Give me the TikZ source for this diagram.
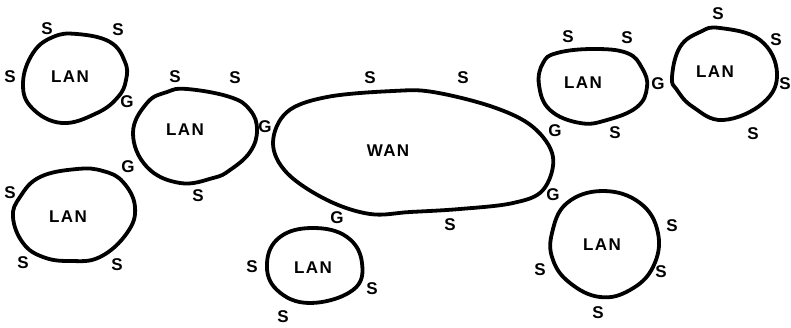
\documentclass[tikz,border=0pt]{standalone}
\usepackage{fontspec}
\newfontfamily\lblfont[LetterSpace=8]{Liberation Sans}
\begin{document}
\begin{tikzpicture}[x=1pt,y=-1pt,
  blob/.style={line width=3.8pt, line join=round},
  lbl/.style={font=\lblfont\bfseries\fontsize{17}{17}\selectfont, inner sep=0pt}]
\useasboundingbox (0,0) rectangle (791,327);
% blobs
\draw[blob] plot[smooth cycle, tension=0.7] coordinates {(77,34) (110,42) (125,62) (126,80) (118,97) (97,113) (62,123) (32,108) (23,83) (33,53) (53,37)};
\draw[blob] plot[smooth cycle, tension=0.7] coordinates {(187,89) (230,97) (250,110) (257,130) (250,152) (230,170) (213,178) (180,183) (147,167) (133,133) (147,103) (167,92)};
\draw[blob] plot[smooth cycle, tension=0.7] coordinates {(77,169) (40,177) (20,197) (13,217) (23,243) (43,257) (70,261) (100,257) (127,233) (135,207) (123,182) (103,171)};
\draw[blob] plot[smooth cycle, tension=0.6] coordinates {(273,143) (287,112) (327,97) (393,91) (433,92) (493,107) (533,127) (553,157) (543,190) (513,203) (460,209) (410,212) (370,214) (327,200) (287,173)};
\draw[blob] plot[smooth cycle, tension=0.7] coordinates {(313,228) (347,237) (362,263) (353,290) (310,303) (277,290) (267,263) (280,237)};
\draw[blob] plot[smooth cycle, tension=0.7] coordinates {(557,53) (593,49) (627,53) (642,68) (647,87) (637,107) (607,120) (580,123) (550,110) (539,85) (543,63)};
\draw[blob] plot[smooth cycle, tension=0.7] coordinates {(720,28) (760,40) (777,73) (763,103) (723,120) (693,107) (677,90) (672,77) (680,47) (700,32)};
\draw[blob] plot[smooth cycle, tension=0.7] coordinates {(603,191) (640,203) (658,233) (653,267) (630,290) (600,297) (570,283) (553,260) (552,233) (567,203)};
% labels: blob 1
\node[lbl] (l1) at (70,77) {LAN};
\node[lbl] (s1a) at (47,29) {S};
\node[lbl] (s1b) at (118,30) {S};
\node[lbl] (s1c) at (10,77) {S};
\node[lbl] (g1) at (127,102) {G};
% blob 2
\node[lbl] (l2) at (185,130) {LAN};
\node[lbl] (s2a) at (175,77) {S};
\node[lbl] (s2b) at (235,78) {S};
\node[lbl] (s2c) at (198,196) {S};
\node[lbl] (g2a) at (128,167) {G};
\node[lbl] (g2b) at (265,127) {G};
% blob 3
\node[lbl] (l3) at (68,217) {LAN};
\node[lbl] (s3a) at (10,193) {S};
\node[lbl] (s3b) at (23,263) {S};
\node[lbl] (s3c) at (117,265) {S};
% WAN
\node[lbl] (w) at (388,151) {WAN};
\node[lbl] (sw1) at (370,78) {S};
\node[lbl] (sw2) at (463,78) {S};
\node[lbl] (sw3) at (450,225) {S};
\node[lbl] (gw1) at (337,218) {G};
\node[lbl] (gw2) at (555,131) {G};
\node[lbl] (gw3) at (553,195) {G};
% blob 5
\node[lbl] (l5) at (313,268) {LAN};
\node[lbl] (s5a) at (252,267) {S};
\node[lbl] (s5b) at (372,289) {S};
\node[lbl] (s5c) at (283,317) {S};
% blob 6
\node[lbl] (l6) at (583,83) {LAN};
\node[lbl] (s6a) at (568,37) {S};
\node[lbl] (s6b) at (627,38) {S};
\node[lbl] (s6c) at (615,133) {S};
\node[lbl] (g6) at (658,84) {G};
% blob 7
\node[lbl] (l7) at (715,72) {LAN};
\node[lbl] (s7a) at (718,14) {S};
\node[lbl] (s7b) at (776,40) {S};
\node[lbl] (s7c) at (785,84) {S};
\node[lbl] (s7d) at (753,134) {S};
% blob 8
\node[lbl] (l8) at (602,245) {LAN};
\node[lbl] (s8a) at (672,226) {S};
\node[lbl] (s8b) at (661,272) {S};
\node[lbl] (s8c) at (540,270) {S};
\node[lbl] (s8d) at (598,313) {S};
\end{tikzpicture}
\end{document}
